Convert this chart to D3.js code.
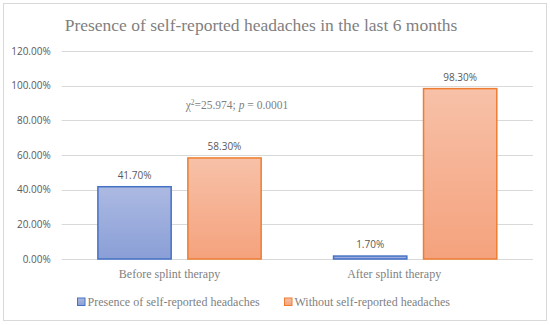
<!DOCTYPE html>
<html>
<head>
<meta charset="utf-8">
<script src="https://cdn.jsdelivr.net/npm/d3@7"></script>
<style>
  body { margin: 0; background: #fff; }
  svg { display: block; }
</style>
</head>
<body>
<div id="chart"></div>
<script>
  // data
  var categories = ['Before splint therapy', 'After splint therapy']
  var seriesNames = ['Presence of self-reported headaches', 'Without self-reported headaches']
  var withHeadache = [41.7, 1.7]
  var withoutHeadache = [58.3, 98.3]
  var yTicks = [0, 20, 40, 60, 80, 100, 120]

  var width = 550, height = 325
  var margin = { left: 61.7, right: 17, top: 51, bottom: 66 }
  var plotW = width - margin.left - margin.right
  var plotH = height - margin.top - margin.bottom

  var svg = d3.select('#chart').append('svg')
    .attr('width', width)
    .attr('height', height)

  // gradients for the bars
  var defs = svg.append('defs')
  var grads = [
    { id: 'gBlue', top: '#acb9e2', bottom: '#8a9fd7' },
    { id: 'gOrange', top: '#f7c1a8', bottom: '#f5a27d' }
  ]
  grads.forEach(g => {
    var lg = defs.append('linearGradient').attr('id', g.id)
      .attr('x1', 0).attr('y1', 0).attr('x2', 0).attr('y2', 1)
    lg.append('stop').attr('offset', '0%').attr('stop-color', g.top)
    lg.append('stop').attr('offset', '100%').attr('stop-color', g.bottom)
  })
  var fills = ['url(#gBlue)', 'url(#gOrange)']
  var strokes = ['#4472c4', '#ed7d31']

  // frame
  svg.append('rect')
    .attr('x', 3.5).attr('y', 3.5)
    .attr('width', 543).attr('height', 317)
    .attr('fill', '#fff')
    .attr('stroke', '#d9d9d9')

  svg.append('text')
    .attr('x', 261).attr('y', 31)
    .attr('text-anchor', 'middle')
    .attr('font-family', 'Liberation Serif')
    .attr('font-size', 17.5)
    .attr('fill', '#7f7f7f')
    .text('Presence of self-reported headaches in the last 6 months')

  var g = svg.append('g')
    .attr('transform', 'translate(' + margin.left + ',' + margin.top + ')')

  var x = d3.scaleBand()
    .domain(categories)
    .range([0, plotW])

  var inner = d3.scaleBand()
    .domain(seriesNames)
    .range([36.2, x.bandwidth() - 36.2])
    .paddingInner(0.1856)

  var y = d3.scaleLinear()
    .domain([0, 120])
    .range([plotH, 0])

  // grid
  g.selectAll('line.grid')
    .data(yTicks)
    .enter()
    .append('line')
    .attr('class', 'grid')
    .attr('x1', 0).attr('x2', plotW)
    .attr('y1', d => Math.round(y(d)) + 0.5)
    .attr('y2', d => Math.round(y(d)) + 0.5)
    .attr('stroke', '#d9d9d9')

  g.selectAll('text.ytick')
    .data(yTicks)
    .enter()
    .append('text')
    .attr('class', 'ytick')
    .attr('x', -11)
    .attr('y', d => y(d))
    .attr('dy', '0.35em')
    .attr('text-anchor', 'end')
    .attr('font-family', 'Open Sans')
    .attr('font-size', 10)
    .attr('fill', '#595959')
    .text(d => d3.format('.2f')(d) + '%')

  var rows = []
  categories.forEach((c, i) => {
    rows.push({ cat: c, s: 0, v: withHeadache[i] })
    rows.push({ cat: c, s: 1, v: withoutHeadache[i] })
  })

  g.selectAll('rect.bar')
    .data(rows)
    .enter()
    .append('rect')
    .attr('class', 'bar')
    .attr('x', d => x(d.cat) + inner(seriesNames[d.s]))
    .attr('y', d => y(d.v))
    .attr('width', inner.bandwidth())
    .attr('height', d => y(0) - y(d.v))
    .attr('fill', d => fills[d.s])
    .attr('stroke', d => strokes[d.s])
    .attr('stroke-width', 1.5)

  g.selectAll('text.val')
    .data(rows)
    .enter()
    .append('text')
    .attr('class', 'val')
    .attr('x', d => x(d.cat) + inner(seriesNames[d.s]) + inner.bandwidth() / 2)
    .attr('y', d => y(d.v) - 8)
    .attr('text-anchor', 'middle')
    .attr('font-family', 'Open Sans')
    .attr('font-size', 10)
    .attr('fill', '#595959')
    .text(d => d3.format('.2f')(d.v) + '%')

  // category labels (sit a little left of the band centre in the original)
  g.selectAll('text.cat')
    .data(categories)
    .enter()
    .append('text')
    .attr('class', 'cat')
    .attr('x', (d, i) => x(d) + x.bandwidth() / 2 - 10 - 11 * i)
    .attr('y', plotH + 19)
    .attr('text-anchor', 'middle')
    .attr('font-family', 'Liberation Serif')
    .attr('font-size', 12)
    .attr('fill', '#7f7f7f')
    .text(d => d)

  // chi-square note
  var note = g.append('text')
    .attr('x', 237 - margin.left)
    .attr('y', 109 - margin.top)
    .attr('text-anchor', 'middle')
    .attr('font-family', 'Liberation Serif')
    .attr('font-size', 11.5)
    .attr('fill', '#7f7f7f')
  note.append('tspan').text('χ')
  note.append('tspan').attr('font-size', 7.5).attr('dy', -4).text('2')
  note.append('tspan').attr('dy', 4).text('=25.974; ')
  note.append('tspan').attr('font-style', 'italic').text('p')
  note.append('tspan').text(' = 0.0001')

  // legend
  var legX = [77.5, 284.5]
  var leg = svg.selectAll('g.leg')
    .data(seriesNames)
    .enter()
    .append('g')
    .attr('class', 'leg')
    .attr('transform', (d, i) => 'translate(' + legX[i] + ',302)')
  leg.append('rect')
    .attr('x', 0).attr('y', -4)
    .attr('width', 7.5).attr('height', 7.5)
    .attr('fill', (d, i) => fills[i])
    .attr('stroke', (d, i) => strokes[i])
  leg.append('text')
    .attr('x', 10).attr('y', 0)
    .attr('dy', '0.35em')
    .attr('font-family', 'Liberation Serif')
    .attr('font-size', 12)
    .attr('fill', '#7f7f7f')
    .text(d => d)
</script>
</body>
</html>
